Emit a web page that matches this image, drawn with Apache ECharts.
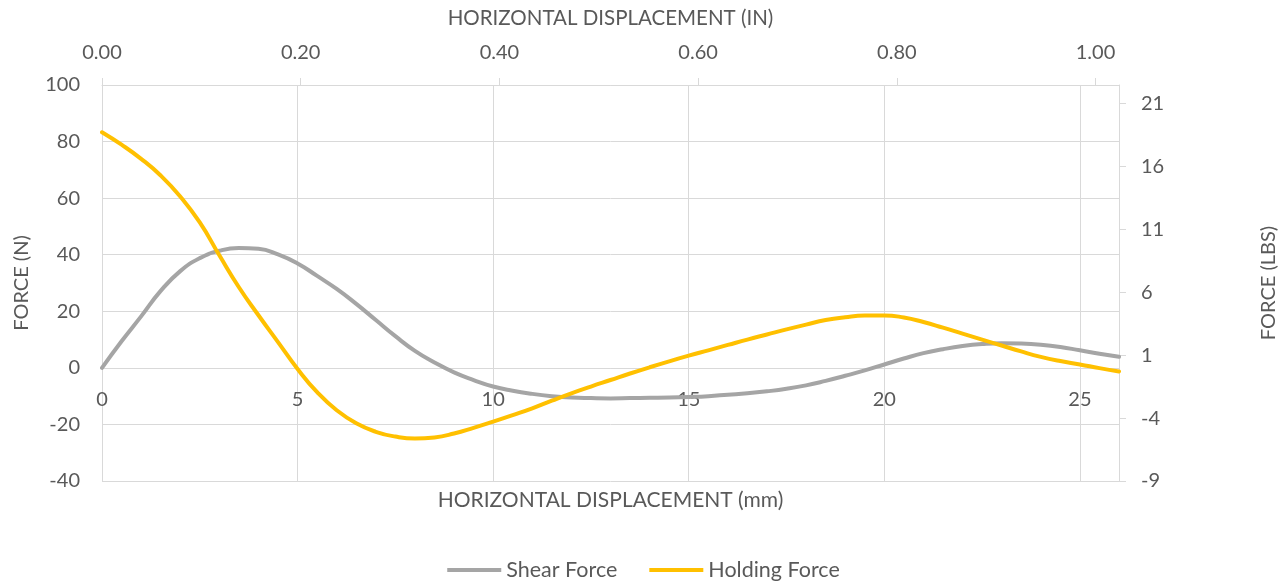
<!DOCTYPE html>
<html>
<head>
<meta charset="utf-8">
<script src="https://cdn.jsdelivr.net/npm/echarts@6.0.0/dist/echarts.min.js"></script>
<style>
html,body{margin:0;padding:0;background:#fff;}
#chart{width:1287px;height:584px;}
</style>
</head>
<body>
<div id="chart"></div>
<script>
// ---- data (every 0.5 mm) ----
const displacementMm = [0, 0.5, 1, 1.5, 2, 2.5, 3, 3.5, 4, 4.5, 5, 5.5, 6, 6.5, 7, 7.5, 8, 8.5, 9, 9.5,
  10, 10.5, 11, 11.5, 12, 12.5, 13, 13.5, 14, 14.5, 15, 15.5, 16, 16.5, 17, 17.5, 18, 18.5, 19, 19.5,
  20, 20.5, 21, 21.5, 22, 22.5, 23, 23.5, 24, 24.5, 25, 25.5, 26];
const shearN = [0, 9.4, 18.2, 27.2, 34.2, 38.8, 41.4, 42.4, 42.1, 40.1, 36.9, 32.5, 27.9, 22.6, 16.9, 11.2, 6.0, 1.9, -1.6, -4.3,
  -6.6, -8.1, -9.2, -10.0, -10.5, -10.7, -10.8, -10.7, -10.6, -10.5, -10.3, -10.0, -9.5, -9.0, -8.3, -7.4, -6.2, -4.6, -2.8, -0.9,
  1.2, 3.3, 5.2, 6.6, 7.7, 8.4, 8.7, 8.6, 8.2, 7.4, 6.2, 5.0, 3.9];
const holdingN = [83.3, 78.9, 73.9, 68.0, 60.6, 51.4, 39.8, 28.5, 18.6, 9.1, -0.4, -8.6, -15.0, -19.6, -22.6, -24.3, -25.0, -24.6, -23.2, -21.2,
  -19.0, -16.7, -14.3, -11.6, -9.0, -6.6, -4.3, -2.0, 0.2, 2.3, 4.3, 6.2, 8.1, 10.0, 11.8, 13.6, 15.3, 16.9, 17.9, 18.5,
  18.55, 17.8, 16.2, 14.2, 12.1, 10.0, 7.9, 5.8, 3.9, 2.4, 1.2, -0.1, -1.3];
const leftTicksN = [-40, -20, 0, 20, 40, 60, 80, 100];
const rightTicksLbs = [-9, -4, 1, 6, 11, 16, 21];
const bottomTicksMm = [0, 5, 10, 15, 20, 25];
const topTicksIn = [0, 0.2, 0.4, 0.6, 0.8, 1.0];
const seriesNames = ['Shear Force', 'Holding Force'];
const titleTop = 'HORIZONTAL DISPLACEMENT (IN)';
const titleBottom = 'HORIZONTAL DISPLACEMENT (mm)';
const titleLeft = 'FORCE (N)';
const titleRight = 'FORCE (LBS)';

const N_TO_LBS = 0.224809;
const MM_PER_IN = 25.4;
const xMin = 0, xMax = 26;
const yMin = -40, yMax = 100;

const FONT = 'Lato';
const TXT = '#595959';
const GRID = '#D9D9D9';

// layout
const gridLeft = 102, gridRight = 168, gridTop = 85, gridBottom = 103;
const plotH = 584 - gridTop - gridBottom;
const zeroOffset = -Math.round(plotH * (0 - yMin) / (yMax - yMin)); // move mm axis up to y=0
const plotCenterX = gridLeft + (1287 - gridLeft - gridRight) / 2;

const chart = echarts.init(document.getElementById('chart'), null, {renderer: 'canvas'});
const zip = (xs, ys) => xs.map((x, i) => [x, ys[i]]);

chart.setOption({
  animation: false,
  textStyle: {fontFamily: FONT, color: TXT},
  grid: {left: gridLeft, right: gridRight, top: gridTop, bottom: gridBottom, containLabel: false},
  legend: {
    bottom: -2, left: 'center',
    icon: 'rect', itemWidth: 54, itemHeight: 4, itemGap: 32,
    textStyle: {fontFamily: FONT, fontSize: 21.5, color: TXT},
    data: seriesNames
  },
  graphic: [{
    type: 'text', x: plotCenterX, y: 500,
    style: {text: titleBottom, fontFamily: FONT, fontSize: 21, fill: TXT,
      textAlign: 'center', textVerticalAlign: 'middle'}
  }],
  xAxis: [{
    type: 'value', position: 'bottom', min: xMin, max: xMax, interval: 5,
    offset: zeroOffset,
    axisLine: {show: true, onZero: false, lineStyle: {color: GRID}},
    axisTick: {show: false},
    axisLabel: {fontFamily: FONT, fontSize: 20, color: TXT, margin: 22,
      customValues: bottomTicksMm},
    splitLine: {show: true, lineStyle: {color: GRID, width: 1}}
  }, {
    type: 'value', position: 'top', min: xMin / MM_PER_IN, max: xMax / MM_PER_IN, interval: 0.2,
    name: titleTop, nameLocation: 'middle', nameGap: 56,
    nameTextStyle: {fontFamily: FONT, fontSize: 20.5, color: TXT},
    axisLine: {show: true, onZero: false, lineStyle: {color: GRID}},
    axisTick: {show: true, length: 7, lineStyle: {color: GRID}, customValues: topTicksIn},
    axisLabel: {fontFamily: FONT, fontSize: 20, color: TXT, margin: 22,
      customValues: topTicksIn, formatter: v => v.toFixed(2)},
    splitLine: {show: false}
  }],
  yAxis: [{
    type: 'value', position: 'left', min: yMin, max: yMax, interval: 20,
    name: titleLeft, nameLocation: 'middle', nameGap: 70, nameRotate: 90,
    nameTextStyle: {fontFamily: FONT, fontSize: 20, color: TXT},
    axisLine: {show: false, onZero: false}, axisTick: {show: false},
    axisLabel: {fontFamily: FONT, fontSize: 20, color: TXT, margin: 22, customValues: leftTicksN},
    splitLine: {show: true, lineStyle: {color: GRID, width: 1}}
  }, {
    type: 'value', position: 'right', min: -9, max: -9 + (yMax - yMin) * N_TO_LBS, interval: 5,
    name: titleRight, nameLocation: 'middle', nameGap: 140, nameRotate: 90,
    nameTextStyle: {fontFamily: FONT, fontSize: 20, color: TXT},
    axisLine: {show: true, onZero: false, lineStyle: {color: GRID}},
    axisTick: {show: true, length: 7, lineStyle: {color: GRID}, customValues: rightTicksLbs},
    axisLabel: {fontFamily: FONT, fontSize: 20, color: TXT, margin: 22, customValues: rightTicksLbs},
    splitLine: {show: false}
  }],
  series: [{
    name: seriesNames[0], type: 'line', xAxisIndex: 0, yAxisIndex: 0,
    data: zip(displacementMm, shearN), smooth: 0.5, symbol: 'none',
    lineStyle: {color: '#A5A5A5', width: 4, cap: 'round'},
    itemStyle: {color: '#A5A5A5'}, z: 3
  }, {
    name: seriesNames[1], type: 'line', xAxisIndex: 0, yAxisIndex: 0,
    data: zip(displacementMm, holdingN), smooth: 0.5, symbol: 'none',
    lineStyle: {color: '#FFC000', width: 4, cap: 'round'},
    itemStyle: {color: '#FFC000'}, z: 4
  }]
});
</script>
</body>
</html>
